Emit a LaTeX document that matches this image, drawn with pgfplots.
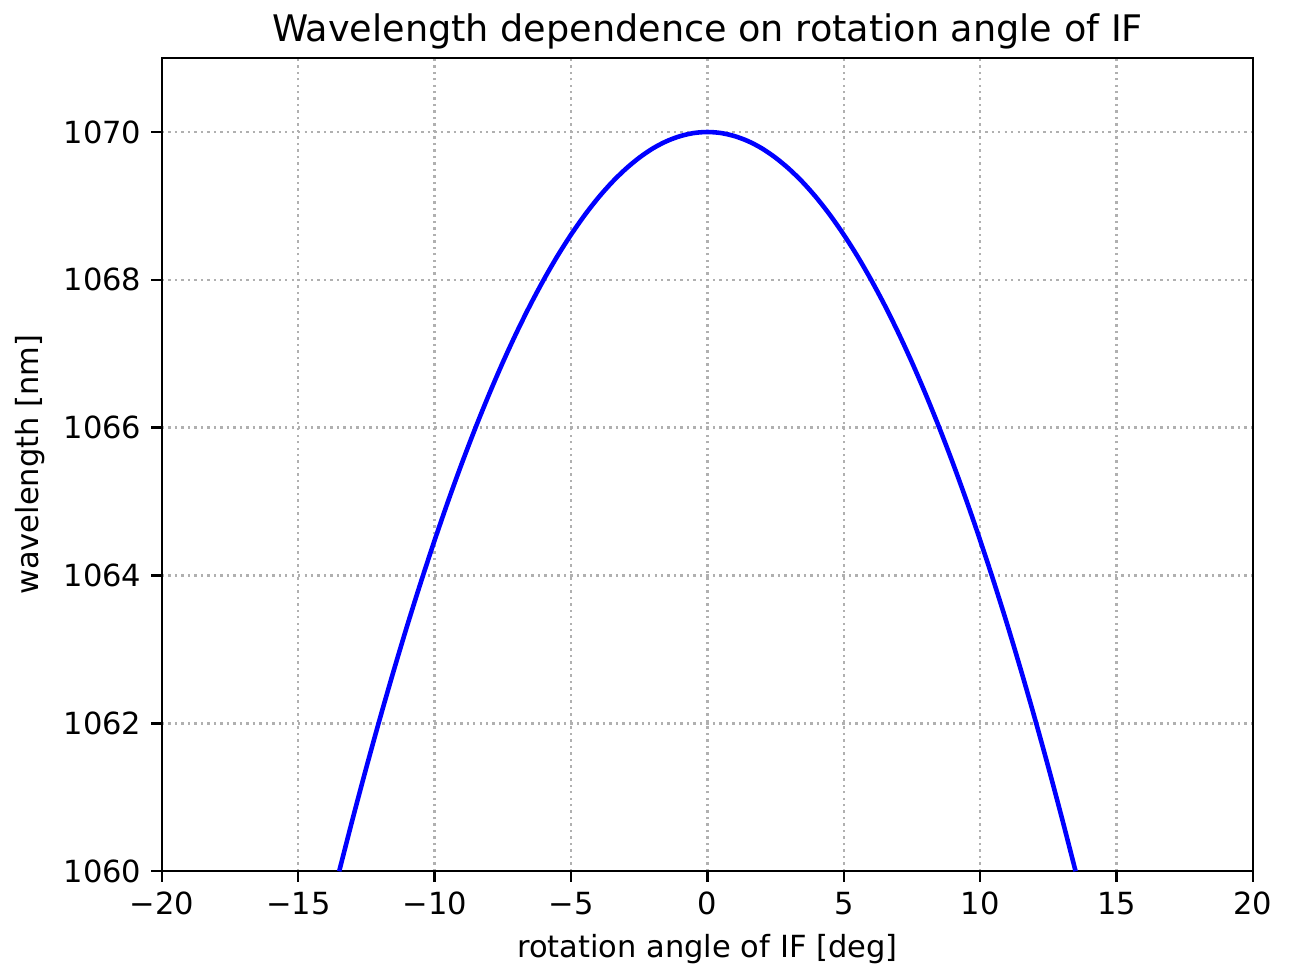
\documentclass[border=0pt]{standalone}
\usepackage{fontspec}
\setmainfont{DejaVu Sans}
\usepackage{pgfplots}
\pgfplotsset{compat=1.18}
\definecolor{gridgray}{HTML}{B0B0B0}
\begin{document}
\begin{tikzpicture}
\begin{axis}[
  scale only axis,
  width=388.8pt, height=289.8pt,
  xmin=-20, xmax=20, ymin=1060, ymax=1071,
  xtick={-20,-15,-10,-5,0,5,10,15,20},
  xticklabels={−20,−15,−10,−5,0,5,10,15,20},
  ytick={1060,1062,1064,1066,1068,1070},
  yticklabels={1060,1062,1064,1066,1068,1070},
  tick align=outside,
  tick pos=left,
  major tick length=3.8pt,
  tick style={black, line width=0.87pt},
  axis line style={line width=0.87pt},
  grid=major,
  grid style={gridgray, line width=0.87pt, dash pattern=on 0.87pt off 1.44pt},
  ticklabel style={font=\fontsize{10.87}{13}\selectfont},
  label style={font=\fontsize{10.87}{13}\selectfont},
  title style={font=\fontsize{13.04}{15}\selectfont, yshift=-6.5pt},
  title={Wavelength dependence on rotation angle of IF},
  xlabel={rotation angle of IF [deg]},
  ylabel={wavelength [nm]},
  clip=false,
]
\addplot[blue, line width=1.63pt, smooth] coordinates {
(-13.5,1060.000) (-13,1060.717) (-12.5,1061.409) (-12,1062.075) (-11.5,1062.715)
(-11,1063.330) (-10.5,1063.917) (-10,1064.478) (-9.5,1065.013) (-9,1065.521)
(-8.5,1066.002) (-8,1066.456) (-7.5,1066.884) (-7,1067.284) (-6.5,1067.657)
(-6,1068.002) (-5.5,1068.321) (-5,1068.611) (-4.5,1068.875) (-4,1069.111)
(-3.5,1069.319) (-3,1069.499) (-2.5,1069.652) (-2,1069.778) (-1.5,1069.875)
(-1,1069.944) (-0.5,1069.986) (0,1070.000)
(0.5,1069.986) (1,1069.944) (1.5,1069.875) (2,1069.778) (2.5,1069.652)
(3,1069.499) (3.5,1069.319) (4,1069.111) (4.5,1068.875) (5,1068.611)
(5.5,1068.321) (6,1068.002) (6.5,1067.657) (7,1067.284) (7.5,1066.884)
(8,1066.456) (8.5,1066.002) (9,1065.521) (9.5,1065.013) (10,1064.478)
(10.5,1063.917) (11,1063.330) (11.5,1062.715) (12,1062.075) (12.5,1061.409)
(13,1060.717) (13.5,1060.000)
};
\path ([xshift=-57.7pt,yshift=-33.1pt]rel axis cs:0,0) rectangle ([xshift=14.3pt,yshift=20.7pt]rel axis cs:1,1);
\end{axis}
\end{tikzpicture}
\end{document}
